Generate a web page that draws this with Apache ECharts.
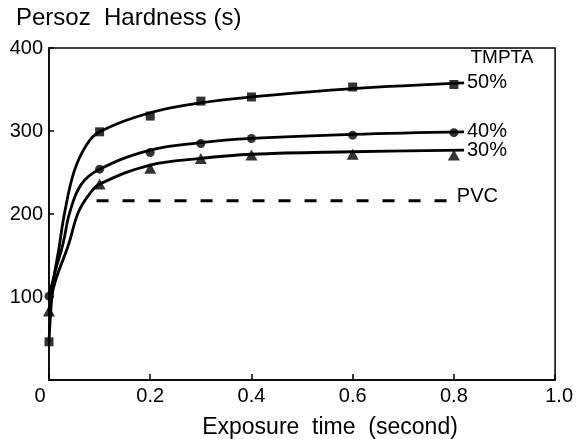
<!DOCTYPE html>
<html><head><meta charset="utf-8">
<script src="https://cdn.jsdelivr.net/npm/echarts@6/dist/echarts.min.js"></script>
<style>html,body{margin:0;padding:0;background:#fff}#c{width:576px;height:439px}</style>
</head><body><div id="c"></div>
<script>
// ---- data ----
const xTickLabels = ['0', '0.2', '0.4', '0.6', '0.8', '1.0'];
const yTickLabels = ['', '100', '200', '300', '400'];

const markX  = [0, 0.1, 0.2, 0.3, 0.4, 0.6, 0.8];
const mark50 = [46, 299, 318, 336, 341, 353, 356];
const mark40 = [101, 254, 274, 285, 291, 295, 298];
const mark30 = [83, 236, 255, 267, 271, 272, 271];

// fitted curves as drawn in the reference
const curve50X = [0, 0.008, 0.02, 0.031, 0.05, 0.075, 0.1, 0.2, 0.3, 0.4, 0.6, 0.82];
const curve50Y = [46, 115, 160, 202, 252, 284, 299, 322, 334, 341, 351, 358];
const curve40X = [0, 0.012, 0.028, 0.041, 0.064, 0.1, 0.2, 0.3, 0.4, 0.6, 0.82];
const curve40Y = [101, 130, 165, 202, 236, 254, 277, 286, 291, 296, 299];
const curve30X = [0, 0.012, 0.038, 0.058, 0.08, 0.1, 0.2, 0.3, 0.4, 0.6, 0.82];
const curve30Y = [83, 118, 162, 202, 224, 236, 259, 267, 272, 275, 277];

const pvcX = [0.094, 0.794];
const pvcY = [216, 216];

const seriesNames = ['50%', '40%', '30%', 'PVC'];
const legendTitle = 'TMPTA';
const yTitle = 'Persoz  Hardness (s)';
const xTitle = 'Exposure  time  (second)';

// ---- chart ----
const FONT = 'Liberation Sans';
const zip = (xs, ys) => xs.map((x, i) => [x, ys[i]]);
const chart = echarts.init(document.getElementById('c'), null, {renderer: 'canvas'});

function curve(name, xs, ys) {
  return {
    type: 'line', name, data: zip(xs, ys), smooth: 0.4,
    showSymbol: false, symbol: 'none', z: 2,
    lineStyle: {color: '#000', width: 2.8},
    endLabel: {show: true, formatter: name, distance: 3, fontFamily: FONT, fontSize: 20, color: '#000'}
  };
}
function marks(name, ys, symbol, size) {
  return {
    type: 'scatter', name: name + ' pts', data: zip(markX, ys), symbol, symbolSize: size, z: 3,
    itemStyle: {color: '#000'}
  };
}

chart.setOption({
  animation: false,
  backgroundColor: '#fff',
  grid: {left: 49, top: 48, right: 19, bottom: 59, show: true, borderColor: '#000', borderWidth: 1.5, backgroundColor: 'transparent'},
  xAxis: {
    type: 'value', min: 0, max: 1, interval: 0.2,
    axisLine: {show: true, lineStyle: {color: '#000', width: 1.5}},
    axisTick: {show: true, inside: true, length: 6, lineStyle: {color: '#000', width: 1.5}},
    splitLine: {show: false},
    axisLabel: {
      margin: 6, color: '#000', fontFamily: FONT, fontSize: 20,
      formatter: v => {
        const i = Math.round(v / 0.2);
        const t = xTickLabels[i];
        if (i === 0) return '{z|' + t + '}';
        if (i === 5) return '{o|' + t + '}';
        return t;
      },
      rich: {
        z: {fontFamily: FONT, fontSize: 20, color: '#000', padding: [0, 18, 0, 0]},
        o: {fontFamily: FONT, fontSize: 20, color: '#000', padding: [0, 0, 0, 8]}
      }
    }
  },
  yAxis: {
    type: 'value', min: 0, max: 400, interval: 100,
    axisLine: {show: true, lineStyle: {color: '#000', width: 1.5}},
    axisTick: {show: true, inside: true, length: 5, lineStyle: {color: '#000', width: 1.5}},
    splitLine: {show: false},
    axisLabel: {margin: 6, color: '#000', fontFamily: FONT, fontSize: 20,
      formatter: v => yTickLabels[Math.round(v / 100)]}
  },
  graphic: [
    {type: 'text', left: 16, top: 6, style: {text: yTitle, fontFamily: FONT, fontSize: 24, fill: '#000'}},
    {type: 'text', x: 330, y: 428, style: {text: xTitle, fontFamily: FONT, fontSize: 23, fill: '#000', align: 'center', verticalAlign: 'middle'}},
    {type: 'text', x: 502, y: 58, style: {text: legendTitle, fontFamily: FONT, fontSize: 19, fill: '#000', align: 'center', verticalAlign: 'middle'}}
  ],
  series: [
    curve(seriesNames[0], curve50X, curve50Y),
    curve(seriesNames[1], curve40X, curve40Y),
    curve(seriesNames[2], curve30X, curve30Y),
    {
      type: 'line', name: seriesNames[3], data: zip(pvcX, pvcY), showSymbol: false, symbol: 'none', z: 2,
      lineStyle: {color: '#000', width: 3, type: [12, 14]},
      endLabel: {show: true, formatter: seriesNames[3], distance: 6, offset: [0, -4], fontFamily: FONT, fontSize: 20, color: '#000'}
    },
    marks('50%', mark50, 'rect', 9),
    marks('40%', mark40, 'circle', 9),
    marks('30%', mark30, 'triangle', [12, 11])
  ]
});
</script>
</body></html>
